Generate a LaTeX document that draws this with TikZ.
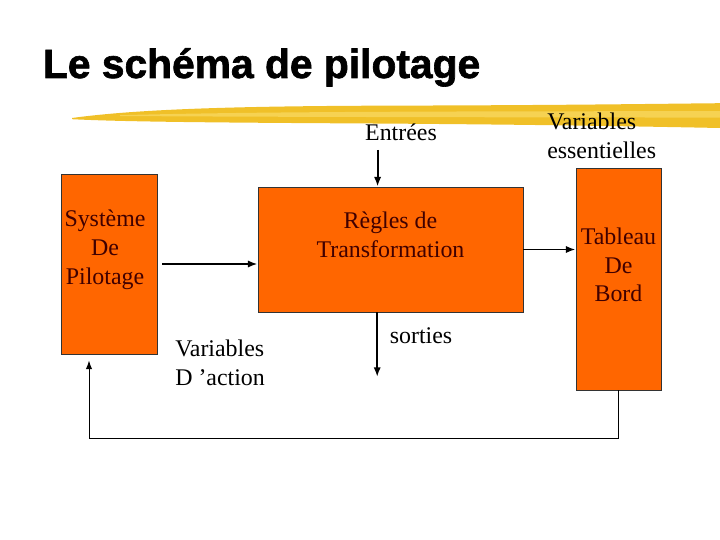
\documentclass[tikz,border=0pt]{standalone}
\usepackage{fontspec}
\setmainfont{Liberation Serif}
\newfontfamily\titlefont[BoldFeatures={FakeBold=1.6}]{Liberation Sans}
\usetikzlibrary{arrows.meta}
\definecolor{boxorange}{RGB}{255,102,0}
\definecolor{boxtext}{RGB}{64,0,0}
\definecolor{brushgold}{RGB}{240,192,40}
\definecolor{brushlight}{RGB}{250,222,110}

\begin{document}
\begin{tikzpicture}[
  box/.style={draw=black!80, line width=0.6pt, fill=boxorange, inner sep=0pt},
  lbl/.style={font=\fontsize{17}{20.5}\selectfont, align=center, inner sep=0pt},
  inlbl/.style={lbl, text=boxtext},
  flow/.style={line width=1.4pt, -{Latex[length=2.4mm,width=1.8mm]}},
]
\useasboundingbox (0,0) rectangle (18,13.5);

% --- title and brush stroke ---
\node[anchor=base west, font=\titlefont\bfseries\fontsize{29}{34}\selectfont]
    (title) at (0.95,11.55) {Le schéma de pilotage};
\fill[brushgold] (1.8,10.55) .. controls (3.5,10.78) and (6,10.85) .. (10,10.86)
    .. controls (14,10.87) and (16,10.9) .. (18,10.92) -- (18,10.3)
    .. controls (15,10.36) and (12,10.4) .. (8,10.42)
    .. controls (5,10.44) and (3,10.46) .. (1.8,10.52) -- cycle;
\fill[brushlight, opacity=0.6] (3,10.62) .. controls (6,10.7) and (10,10.72) .. (18,10.72)
    -- (18,10.56) .. controls (10,10.57) and (6,10.58) .. (3,10.6) -- cycle;

% --- boxes ---
\node[box, minimum width=2.4cm, minimum height=4.5cm] (sys) at (2.725,6.9) {};
\node[box, minimum width=6.625cm, minimum height=3.125cm] (regles) at (9.7625,7.2625) {};
\node[box, minimum width=2.125cm, minimum height=5.55cm] (tab) at (15.4625,6.525) {};

\node[inlbl, xshift=-0.1cm, yshift=0.35cm] (sysT) at (sys.center) {Système\\De\\Pilotage};
\node[inlbl, yshift=0.36cm] (reglesT) at (regles.center) {Règles de\\Transformation};
\node[inlbl, yshift=0.35cm] (tabT) at (tab.center) {Tableau\\De\\Bord};

% --- free labels ---
\node[lbl] (entrees) at (10.025,10.2) {Entrées};
\node[lbl, align=left, anchor=west] (varess) at (13.675,10.11) {Variables\\essentielles};
\node[lbl, align=left, anchor=west] (varact) at (4.375,4.425) {Variables\\D ’action};
\node[lbl] (sorties) at (10.525,5.1) {sorties};

% --- connectors ---
\coordinate (inTop) at (9.44,9.75);
\coordinate (outEnd) at (9.43,4.075);
\coordinate (fbLeft) at (2.225,2.55);
\draw[flow] (inTop) -- (inTop |- regles.north);
\draw[flow] ([xshift=0.125cm]sys.east) -- (sys.east -| regles.west);
\draw[flow] (regles.east) -- (regles.east -| tab.west);
\draw[flow] (outEnd |- regles.south) -- (outEnd);
\draw[line width=0.7pt, -{Latex[length=2.2mm,width=1.6mm]}]
    (tab.south) |- (fbLeft) -- ([yshift=-0.15cm]fbLeft |- sys.south);
\end{tikzpicture}
\end{document}
